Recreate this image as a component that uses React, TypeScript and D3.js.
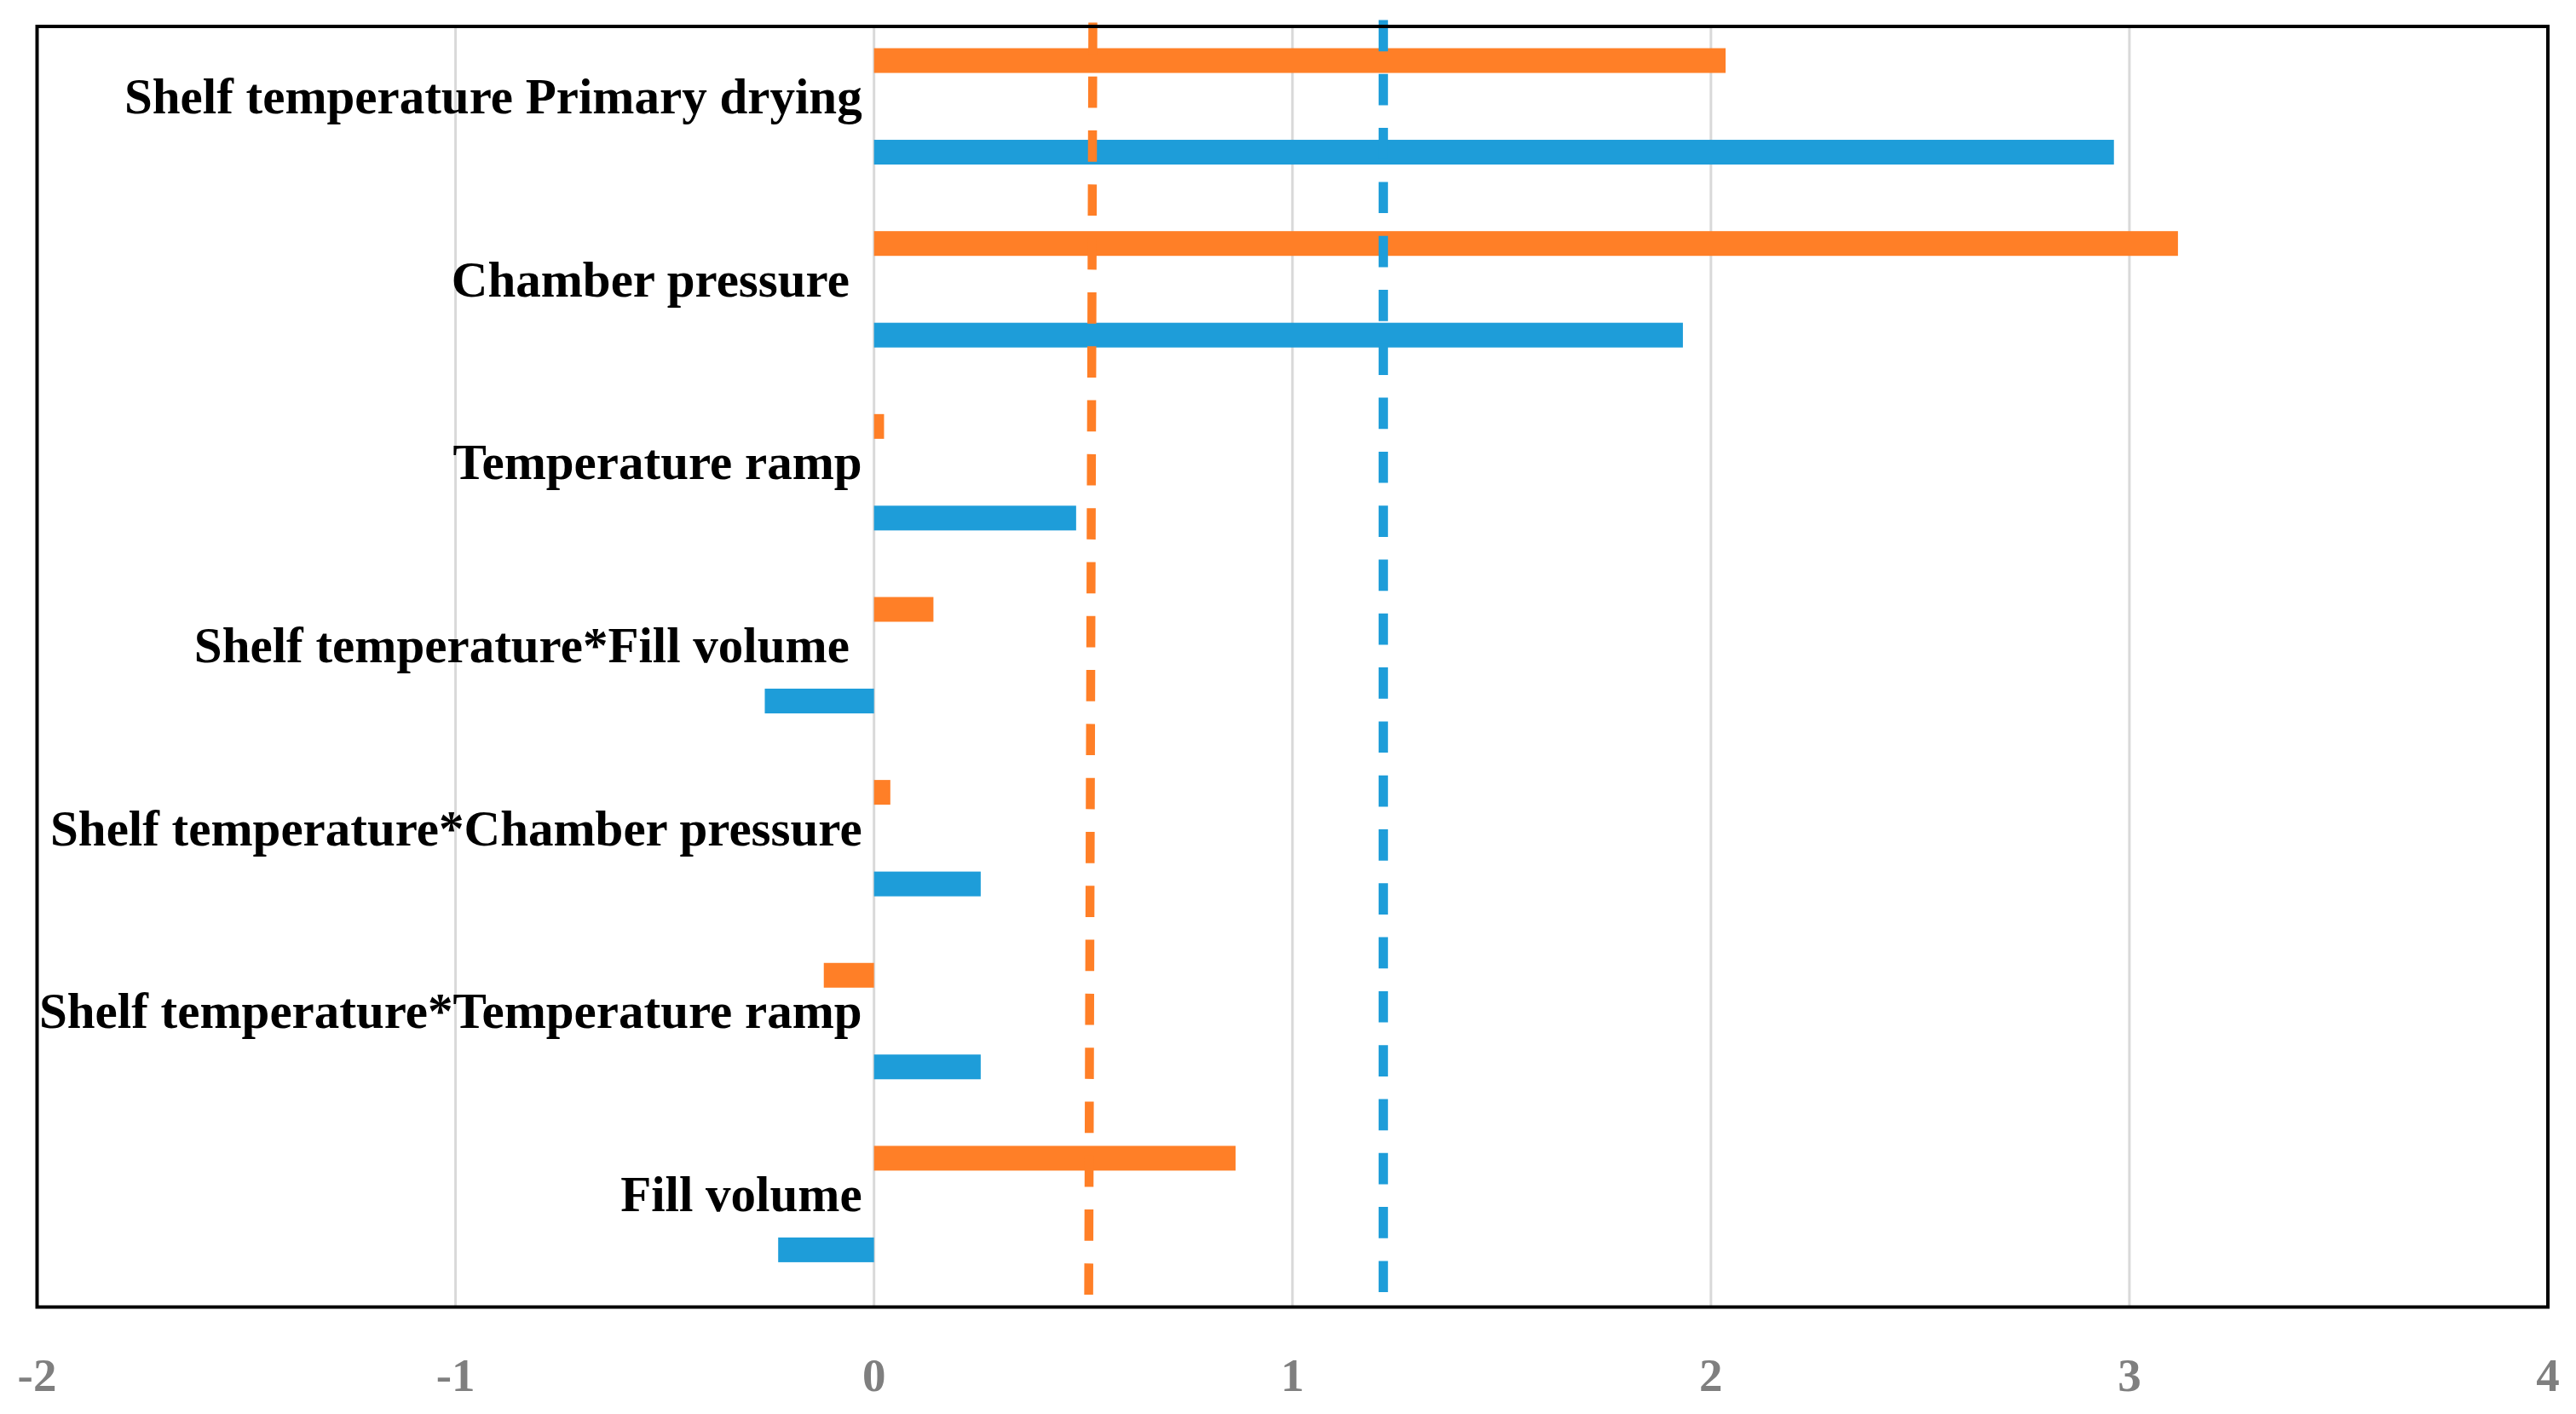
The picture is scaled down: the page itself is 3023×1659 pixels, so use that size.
import React from "react";
import * as d3 from "d3";

// ---- data ----
const categories: string[] = [
  "Shelf temperature Primary drying",
  "Chamber pressure ",
  "Temperature ramp",
  "Shelf temperature*Fill volume ",
  "Shelf temperature*Chamber pressure",
  "Shelf temperature*Temperature ramp",
  "Fill volume",
];
const seriesNames: string[] = ["orange", "blue"];
const orangeValues: number[] = [2.035, 3.116, 0.024, 0.142, 0.039, -0.12, 0.864];
const blueValues: number[] = [2.963, 1.933, 0.483, -0.261, 0.255, 0.255, -0.229];
const xTicks: number[] = [-2, -1, 0, 1, 2, 3, 4];
// reference (dashed) lines: x values at [top, bottom], y as fraction of plot height
const orangeRefX: number[] = [0.523, 0.513];
const orangeRefY: number[] = [1.003, 0.007];
const blueRefX: number[] = [1.217, 1.217];
const blueRefY: number[] = [1.005, 0.01];

const COLORS: Record<string, string> = { orange: "#FF7F27", blue: "#1E9DD9" };

const W = 3023;
const H = 1659;
const left = 43.5;
const right = 2990;
const top = 31;
const bottom = 1533.5;

export default function App() {
  const x = d3.scaleLinear().domain([-2, 4]).range([left, right]);
  const y = d3.scaleBand<string>().domain(categories).range([top, bottom]).padding(0);
  const band = y.bandwidth();
  const inner = d3
    .scaleBand<string>()
    .domain(seriesNames)
    .range([0.119 * band, 0.755 * band])
    .paddingInner(0.73);
  const yRef = d3.scaleLinear().domain([0, 1]).range([bottom, top]);
  const line = d3
    .line<[number, number]>()
    .x((d) => x(d[0]))
    .y((d) => yRef(d[1]));

  const seriesData: Record<string, number[]> = { orange: orangeValues, blue: blueValues };
  const refs = [
    { key: "orange", xs: orangeRefX, ys: orangeRefY, w: 10.5 },
    { key: "blue", xs: blueRefX, ys: blueRefY, w: 11 },
  ];

  const serif = "'Liberation Serif', 'Times New Roman', serif";

  return (
    <svg
      width={W}
      height={H}
      viewBox={`0 0 ${W} ${H}`}
      style={{ position: "absolute", left: 0, top: 0, background: "#fff" }}
    >
      <rect x={0} y={0} width={W} height={H} fill="#fff" />
      {/* gridlines */}
      {xTicks
        .filter((t) => t > -2 && t < 4)
        .map((t) => (
          <line key={"g" + t} x1={x(t)} x2={x(t)} y1={top} y2={bottom} stroke="#d9d9d9" strokeWidth={3} />
        ))}
      {/* bars */}
      {seriesNames.map((s) =>
        categories.map((c, i) => {
          const v = seriesData[s][i];
          const x0 = x(Math.min(0, v));
          const x1 = x(Math.max(0, v));
          return (
            <rect
              key={s + i}
              x={x0}
              y={(y(c) as number) + (inner(s) as number)}
              width={x1 - x0}
              height={inner.bandwidth()}
              fill={COLORS[s]}
            />
          );
        })
      )}
      {/* dashed reference lines */}
      {refs.map((r) => (
        <path
          key={"ref" + r.key}
          d={line(r.xs.map((xv, i) => [xv, r.ys[i]] as [number, number])) || ""}
          fill="none"
          stroke={COLORS[r.key]}
          strokeWidth={r.w}
          strokeDasharray="36.7 26.6"
        />
      ))}
      {/* category labels */}
      {categories.map((c) => (
        <text
          key={"l" + c}
          x={x(0) - 14}
          y={(y(c) as number) + band * 0.475}
          textAnchor="end"
          fontFamily={serif}
          fontWeight="bold"
          fontSize={59}
          fill="#000"
          style={{ whiteSpace: "pre" }}
        >
          {c}
        </text>
      ))}
      {/* frame */}
      <rect x={left} y={top} width={right - left} height={bottom - top} fill="none" stroke="#000" strokeWidth={4} />
      {/* x tick labels */}
      {xTicks.map((t) => (
        <text
          key={"t" + t}
          x={x(t)}
          y={1632}
          textAnchor="middle"
          fontFamily={serif}
          fontWeight="bold"
          fontSize={55}
          fill="#7f7f7f"
        >
          {t}
        </text>
      ))}
    </svg>
  );
}
